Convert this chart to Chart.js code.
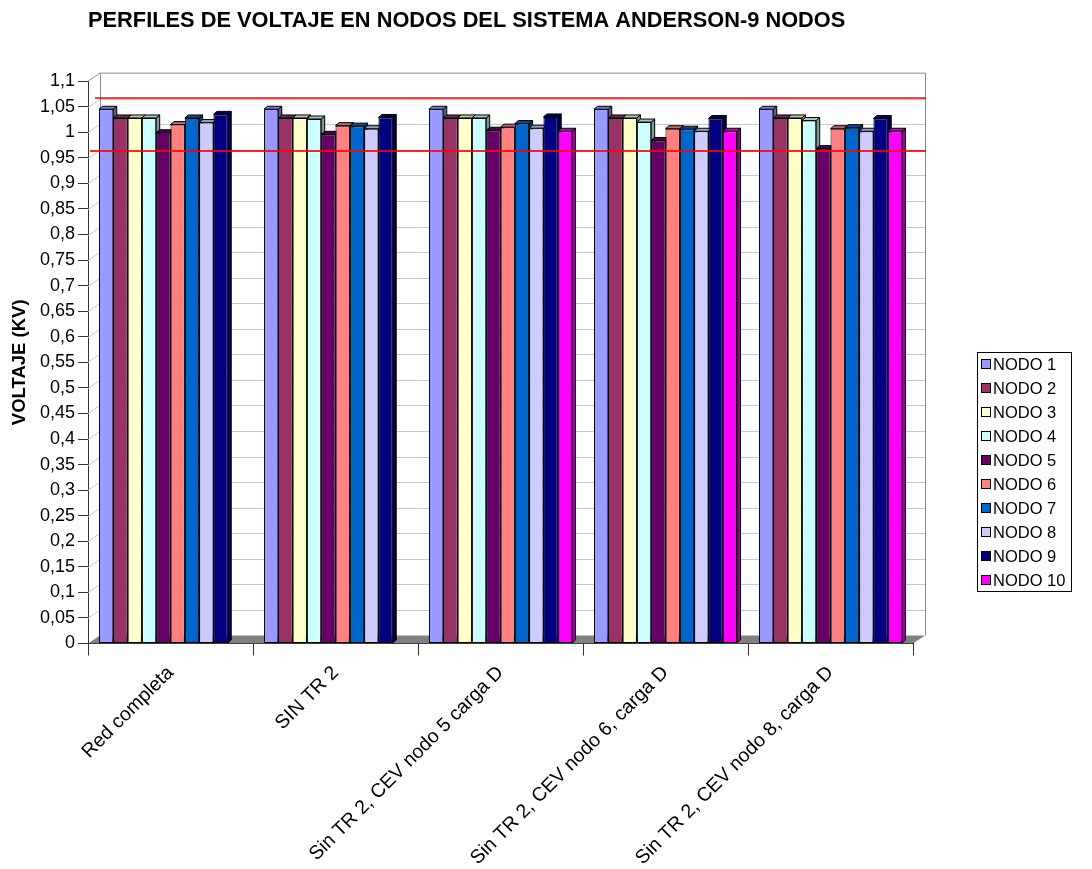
<!DOCTYPE html>
<html lang="es">
<head>
  <meta charset="UTF-8">
  <title>Perfiles de voltaje - Anderson 9 nodos</title>
  <script src="https://cdn.jsdelivr.net/npm/chart.js"></script>
  <style>
    body {
      margin: 0;
      background: #fff;
    }
    #wrap {
      width: 1092px;
      height: 869px;
    }
  </style>
</head>
<body>
  <div id="wrap"><canvas id="chart" width="1092" height="869"></canvas></div>

  <script>
    const categories = [
      'Red completa',
      'SIN TR 2',
      'Sin TR 2, CEV nodo 5 carga D',
      'Sin TR 2, CEV nodo 6, carga D',
      'Sin TR 2, CEV nodo 8, carga D'
    ];
    const nodeNames = ['NODO 1', 'NODO 2', 'NODO 3', 'NODO 4', 'NODO 5',
                       'NODO 6', 'NODO 7', 'NODO 8', 'NODO 9', 'NODO 10'];
    const nodeColors = ['#9999FF', '#993366', '#FFFFCC', '#CCFFFF', '#660066',
                        '#FF8080', '#0066CC', '#CCCCFF', '#000080', '#FF00FF'];

    // voltaje por nodo en cada caso (pu)
    const nodo1  = [1.045, 1.045, 1.045, 1.045, 1.045];
    const nodo2  = [1.028, 1.028, 1.028, 1.028, 1.028];
    const nodo3  = [1.028, 1.028, 1.028, 1.028, 1.028];
    const nodo4  = [1.028, 1.026, 1.028, 1.020, 1.023];
    const nodo5  = [0.999, 0.996, 1.004, 0.984, 0.968];
    const nodo6  = [1.015, 1.013, 1.010, 1.007, 1.007];
    const nodo7  = [1.028, 1.012, 1.017, 1.006, 1.009];
    const nodo8  = [1.019, 1.007, 1.008, 1.002, 1.002];
    const nodo9  = [1.035, 1.029, 1.030, 1.027, 1.027];
    const nodo10 = [null, null, 1.002, 1.002, 1.002];
    const nodeValues = [nodo1, nodo2, nodo3, nodo4, nodo5, nodo6, nodo7, nodo8, nodo9, nodo10];

    // limites superior e inferior
    const limitLines = [1.068, 0.963];

    const yMin = 0, yMax = 1.1, yStep = 0.05;

    const FONT = '"Liberation Sans", Arial, sans-serif';
    const WALL_DX = 12, WALL_DY = 8;   // profundidad de paredes y piso
    const BAR_DX = 3.5, BAR_DY = 3;    // profundidad de cada barra

    function shade(hex, f) {
      const n = parseInt(hex.slice(1), 16);
      const r = Math.round(((n >> 16) & 255) * f);
      const g = Math.round(((n >> 8) & 255) * f);
      const b = Math.round((n & 255) * f);
      return `rgb(${r},${g},${b})`;
    }

    // piso, paredes, lineas de fondo y caras laterales de las barras
    const depthPlugin = {
      id: 'depth',
      beforeDatasetsDraw(chart) {
        const { ctx, chartArea: a, scales: { y } } = chart;
        ctx.save();

        ctx.fillStyle = '#808080';
        ctx.beginPath();
        ctx.moveTo(a.left, a.bottom);
        ctx.lineTo(a.right, a.bottom);
        ctx.lineTo(a.right + WALL_DX, a.bottom - WALL_DY);
        ctx.lineTo(a.left + WALL_DX, a.bottom - WALL_DY);
        ctx.closePath();
        ctx.fill();

        ctx.lineWidth = 1;
        ctx.strokeStyle = '#c8c8c8';
        y.ticks.forEach(t => {
          if (t.value <= yMin || t.value >= yMax - 1e-9) return;
          const py = Math.round(y.getPixelForValue(t.value)) + 0.5;
          ctx.beginPath();
          ctx.moveTo(a.left, py);
          ctx.lineTo(a.left + WALL_DX, py - WALL_DY);
          ctx.lineTo(a.right + WALL_DX, py - WALL_DY);
          ctx.stroke();
        });

        ctx.strokeStyle = '#8c8c8c';
        ctx.beginPath();
        ctx.moveTo(a.left, a.top);
        ctx.lineTo(a.left + WALL_DX, a.top - WALL_DY);
        ctx.lineTo(a.right + WALL_DX + 0.5, a.top - WALL_DY);
        ctx.lineTo(a.right + WALL_DX + 0.5, a.bottom - WALL_DY);
        ctx.moveTo(a.left + WALL_DX + 0.5, a.top - WALL_DY);
        ctx.lineTo(a.left + WALL_DX + 0.5, a.bottom - WALL_DY);
        ctx.stroke();

        ctx.strokeStyle = '#000';
        chart.data.datasets.forEach((ds, i) => {
          const meta = chart.getDatasetMeta(i);
          meta.data.forEach((bar, j) => {
            if (ds.data[j] == null) return;
            const { x, y: top, base, width } = bar.getProps(['x', 'y', 'base', 'width'], true);
            const l = x - width / 2, r = x + width / 2;
            ctx.fillStyle = shade(ds.backgroundColor, 0.6);
            ctx.beginPath();
            ctx.moveTo(r, top);
            ctx.lineTo(r + BAR_DX, top - BAR_DY);
            ctx.lineTo(r + BAR_DX, base - BAR_DY);
            ctx.lineTo(r, base);
            ctx.closePath();
            ctx.fill();
            ctx.stroke();
            ctx.fillStyle = shade(ds.backgroundColor, 0.78);
            ctx.beginPath();
            ctx.moveTo(l, top);
            ctx.lineTo(l + BAR_DX, top - BAR_DY);
            ctx.lineTo(r + BAR_DX, top - BAR_DY);
            ctx.lineTo(r, top);
            ctx.closePath();
            ctx.fill();
            ctx.stroke();
          });
        });
        ctx.restore();
      },
      afterDatasetsDraw(chart) {
        const { ctx, chartArea: a, scales: { y } } = chart;
        ctx.save();
        ctx.strokeStyle = '#ff0000';
        limitLines.forEach((v, k) => {
          const py = Math.round(y.getPixelForValue(v));
          ctx.lineWidth = k === 0 ? 1.5 : 2;
          ctx.globalAlpha = k === 0 ? 1 : 0.85;
          ctx.beginPath();
          ctx.moveTo(a.left + (k === 0 ? 7 : 2), py);
          ctx.lineTo(a.right + WALL_DX + 1, py);
          ctx.stroke();
        });
        ctx.restore();
      }
    };

    // leyenda en recuadro a la derecha
    const sideLegend = {
      id: 'sideLegend',
      afterDraw(chart) {
        const { ctx } = chart;
        const dsets = chart.data.datasets;
        const left = 977, top = 352, width = 94, rowH = 24;
        const height = dsets.length * rowH - 1;
        ctx.save();
        ctx.lineWidth = 1;
        ctx.strokeStyle = '#000';
        ctx.strokeRect(left + 0.5, top + 0.5, width, height);
        ctx.font = `16.5px ${FONT}`;
        ctx.textBaseline = 'middle';
        dsets.forEach((ds, i) => {
          const cy = Math.round(top + 12 + i * rowH);
          ctx.fillStyle = ds.backgroundColor;
          ctx.fillRect(left + 4.5, cy - 4.5, 9, 9);
          ctx.strokeRect(left + 4.5, cy - 4.5, 9, 9);
          ctx.fillStyle = '#000';
          ctx.fillText(ds.label, left + 16, cy + 1);
        });
        ctx.restore();
      }
    };

    const datasets = nodeNames.map((name, i) => ({
      label: name,
      data: nodeValues[i],
      backgroundColor: nodeColors[i],
      borderColor: '#000',
      borderWidth: 1,
      borderSkipped: false,
      categoryPercentage: 0.867,
      barPercentage: 1
    }));

    new Chart(document.getElementById('chart'), {
      type: 'bar',
      data: { labels: categories, datasets: datasets },
      options: {
        responsive: false,
        animation: false,
        layout: { padding: { top: 6, right: 179, bottom: 0, left: 0 } },
        plugins: {
          legend: { display: false },
          tooltip: { enabled: false },
          title: {
            display: true,
            text: 'PERFILES DE VOLTAJE EN NODOS DEL SISTEMA ANDERSON-9 NODOS',
            align: 'start',
            fullSize: false,
            color: '#000',
            font: { family: FONT, size: 21.8, weight: 'bold' },
            padding: { top: 2, bottom: 47 }
          }
        },
        scales: {
          x: {
            grid: {
              offset: true,
              drawOnChartArea: false,
              tickLength: 12,
              tickColor: '#333'
            },
            border: { color: '#000', width: 1 },
            ticks: {
              color: '#000',
              font: { family: FONT, size: 19.5 },
              minRotation: 45,
              maxRotation: 45,
              autoSkip: false,
              padding: 6
            },
            afterFit(scale) { scale.height = 225.5; }
          },
          y: {
            min: yMin,
            max: yMax,
            grid: {
              drawOnChartArea: false,
              tickLength: 10,
              tickColor: '#333'
            },
            border: { color: '#333', width: 1 },
            ticks: {
              stepSize: yStep,
              color: '#000',
              padding: 3,
              autoSkip: false,
              font: { family: FONT, size: 18 },
              callback: v => String(Math.round(v * 100) / 100).replace('.', ',')
            },
            title: {
              display: true,
              text: 'VOLTAJE (KV)',
              color: '#000',
              font: { family: FONT, size: 18.5, weight: 'bold' },
              padding: { top: 9, bottom: 0 }
            },
            afterFit(scale) { scale.width = 88; }
          }
        }
      },
      plugins: [depthPlugin, sideLegend]
    });
  </script>
</body>
</html>
